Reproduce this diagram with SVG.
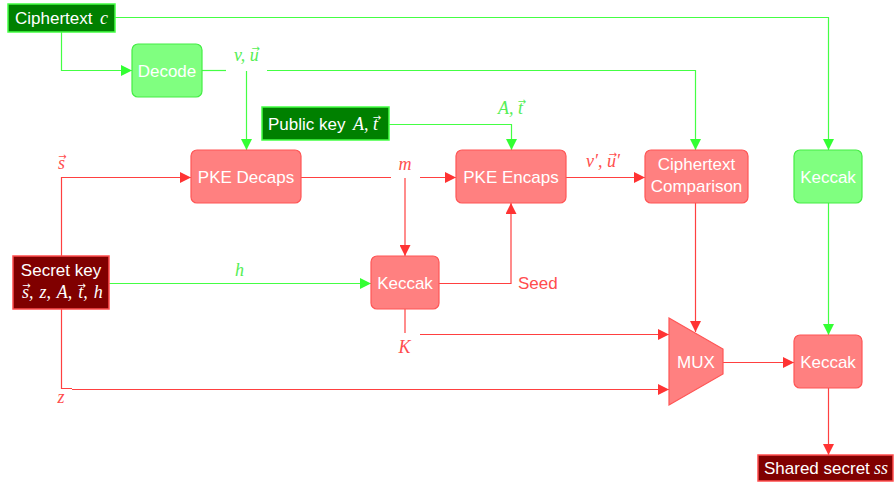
<svg xmlns="http://www.w3.org/2000/svg" width="896" height="485" viewBox="0 0 896 485">
  <style>
    .t { font-family: "Liberation Sans", "DejaVu Sans", sans-serif; font-size: 17px; fill: #ffffff; text-anchor: middle; }
    .ts { font-family: "Liberation Sans", "DejaVu Sans", sans-serif; font-size: 17px; fill: #ffffff; }
    .m { font-family: "Liberation Serif", "DejaVu Serif", serif; font-style: italic; font-size: 18px; }
    .w { fill: #ffffff; }
    .g { fill: #55ee55; }
    .r { fill: #ff4d4d; }
    .va { font-family: "DejaVu Sans", sans-serif; font-style: normal; font-size: 10px; }
    .seed { font-family: "Liberation Sans", "DejaVu Sans", sans-serif; font-size: 17px; fill: #ff4d4d; }
    .dg { fill: #008000; stroke: #44ff44; stroke-width: 1.5; }
    .dr { fill: #800000; stroke: #ff4d4d; stroke-width: 1.5; }
    .lgb { fill: #80ff80; stroke: #44ee44; stroke-width: 1.2; }
    .lrb { fill: #ff8080; stroke: #ff5555; stroke-width: 1.2; }
    .cg { fill: none; stroke: #44ff44; stroke-width: 1.2; }
    .cr { fill: none; stroke: #ff4040; stroke-width: 1.2; }
  </style>
  <defs>
    <marker id="ag" viewBox="0 0 10 10" refX="10" refY="5" markerWidth="11" markerHeight="11" markerUnits="userSpaceOnUse" orient="auto">
      <path d="M0,0 L10,5 L0,10 z" fill="#33ff33"/>
    </marker>
    <marker id="ar" viewBox="0 0 10 10" refX="10" refY="5" markerWidth="11" markerHeight="11" markerUnits="userSpaceOnUse" orient="auto">
      <path d="M0,0 L10,5 L0,10 z" fill="#ff3333"/>
    </marker>
  </defs>

  <!-- connectors -->
  <g id="connectors">
    <!-- ciphertext paths -->
    <polyline class="cg" points="115,17.5 828.5,17.5 828.5,150" marker-end="url(#ag)"/>
    <polyline class="cg" points="61.5,32 61.5,70.5 132,70.5" marker-end="url(#ag)"/>
    <!-- decode output v,u -->
    <line class="cg" x1="202" y1="70.5" x2="226" y2="70.5"/>
    <polyline class="cg" points="267,70.5 695.5,70.5 695.5,150" marker-end="url(#ag)"/>
    <line class="cg" x1="246.5" y1="71" x2="246.5" y2="150" marker-end="url(#ag)"/>
    <!-- public key -->
    <polyline class="cg" points="389,124.5 511.5,124.5 511.5,150" marker-end="url(#ag)"/>
    <!-- h -->
    <line class="cg" x1="109" y1="283.5" x2="371" y2="283.5" marker-end="url(#ag)"/>
    <!-- keccak (green) to keccak (red) -->
    <line class="cg" x1="828.5" y1="203" x2="828.5" y2="335" marker-end="url(#ag)"/>

    <!-- s vector -->
    <polyline class="cr" points="61.5,256 61.5,177.5 191,177.5" marker-end="url(#ar)"/>
    <!-- m -->
    <line class="cr" x1="301" y1="177.5" x2="391" y2="177.5"/>
    <line class="cr" x1="420" y1="177.5" x2="456" y2="177.5" marker-end="url(#ar)"/>
    <line class="cr" x1="405" y1="178" x2="405" y2="256" marker-end="url(#ar)"/>
    <!-- seed -->
    <polyline class="cr" points="439,283.5 511,283.5 511,203" marker-end="url(#ar)"/>
    <!-- v',u' -->
    <line class="cr" x1="566" y1="177.5" x2="645" y2="177.5" marker-end="url(#ar)"/>
    <!-- comparison to mux -->
    <line class="cr" x1="695.5" y1="203" x2="695.5" y2="332" marker-end="url(#ar)"/>
    <!-- K -->
    <line class="cr" x1="405" y1="309" x2="405" y2="333"/>
    <line class="cr" x1="420" y1="334.5" x2="669" y2="334.5" marker-end="url(#ar)"/>
    <!-- z -->
    <polyline class="cr" points="61.5,309 61.5,388.5 72,388.5"/>
    <line class="cr" x1="72" y1="389.5" x2="669" y2="389.5" marker-end="url(#ar)"/>
    <!-- mux to keccak -->
    <line class="cr" x1="723" y1="362.5" x2="794" y2="362.5" marker-end="url(#ar)"/>
    <!-- keccak to shared secret -->
    <line class="cr" x1="828.5" y1="388" x2="828.5" y2="455" marker-end="url(#ar)"/>
  </g>

  <!-- edge labels (vector accents are tspans raised over their letter) -->
  <g id="labels">
    <text class="m g" x="234" y="61">v, u<tspan class="va" dx="-7.2" dy="-9">→</tspan></text>
    <text class="m g" x="498" y="114">A, t<tspan class="va" dx="-5.2" dy="-9">→</tspan></text>
    <text class="m g" x="239.5" y="276" text-anchor="middle">h</text>
    <text class="m r" x="405" y="169.5" text-anchor="middle">m</text>
    <text class="m r" x="586" y="167">v′, u<tspan class="va" dx="-7.2" dy="-9">→</tspan><tspan dx="-1.2" dy="9">′</tspan></text>
    <text class="m r" x="58" y="169">s<tspan class="va" dx="-6.7" dy="-9">→</tspan></text>
    <text class="m r" x="404.5" y="353" text-anchor="middle">K</text>
    <text class="m r" x="61" y="403" text-anchor="middle">z</text>
    <text class="seed" x="518" y="289">Seed</text>
  </g>

  <g id="ciphertext">
    <rect class="dg" x="8" y="4" width="107" height="28"/>
    <text class="ts" x="15" y="23.5">Ciphertext</text>
    <text class="m w" x="100" y="23.5">c</text>
  </g>

  <g id="decode">
    <rect class="lgb" x="132" y="44" width="70" height="53" rx="6"/>
    <text class="t" x="167" y="76.5">Decode</text>
  </g>

  <g id="public-key">
    <rect class="dg" x="262" y="107" width="127" height="33"/>
    <text class="ts" x="268" y="130">Public key</text>
    <text class="m w" x="353" y="130">A, t<tspan class="va" dx="-5.2" dy="-9">→</tspan></text>
  </g>

  <g id="pke-decaps">
    <rect class="lrb" x="191" y="150" width="110" height="53" rx="6"/>
    <text class="t" x="246" y="182.5">PKE Decaps</text>
  </g>

  <g id="pke-encaps">
    <rect class="lrb" x="456" y="150" width="110" height="53" rx="6"/>
    <text class="t" x="511" y="182.5">PKE Encaps</text>
  </g>

  <g id="ciphertext-comparison">
    <rect class="lrb" x="645" y="150" width="103" height="53" rx="6"/>
    <text class="t" x="696.5" y="170">Ciphertext</text>
    <text class="t" x="696.5" y="192">Comparison</text>
  </g>

  <g id="keccak-c">
    <rect class="lgb" x="794" y="150" width="68" height="53" rx="6"/>
    <text class="t" x="828" y="182.5">Keccak</text>
  </g>

  <g id="secret-key">
    <rect class="dr" x="13" y="256" width="96" height="53"/>
    <text class="t" x="61" y="276">Secret key</text>
    <text class="m w" x="22" y="298" word-spacing="1.5">s<tspan class="va" dx="-6.7" dy="-9">→</tspan><tspan dx="-1.7" dy="9">, z, A, t</tspan><tspan class="va" dx="-5.7" dy="-9">→</tspan><tspan dx="-2.7" dy="9">, h</tspan></text>
  </g>

  <g id="keccak-seed">
    <rect class="lrb" x="371" y="256" width="68" height="53" rx="6"/>
    <text class="t" x="405" y="289">Keccak</text>
  </g>

  <g id="mux">
    <polygon class="lrb" points="669,318 723,349 723,374 669,405"/>
    <text class="t" x="696" y="368">MUX</text>
  </g>

  <g id="keccak-ss">
    <rect class="lrb" x="794" y="335" width="68" height="53" rx="6"/>
    <text class="t" x="828" y="368">Keccak</text>
  </g>

  <g id="shared-secret">
    <rect class="dr" x="758" y="455" width="135" height="26"/>
    <text class="ts" x="764" y="474">Shared secret</text>
    <text class="m w" x="874" y="474">ss</text>
  </g>
</svg>
